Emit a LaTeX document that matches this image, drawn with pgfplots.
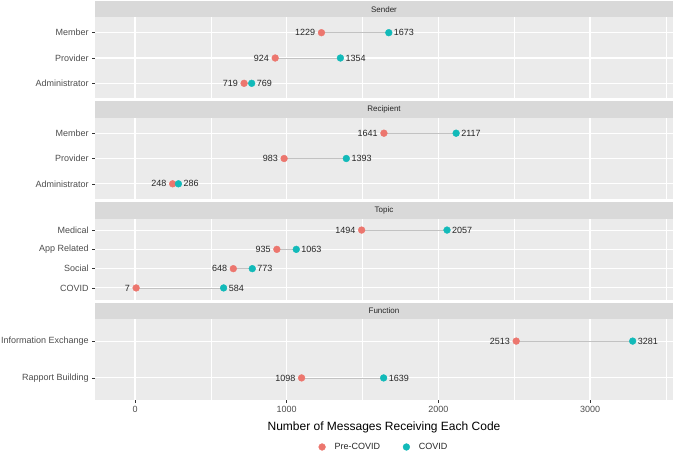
\documentclass[border=0pt]{standalone}
\usepackage{pgfplots}
\pgfplotsset{compat=1.18}
\usepackage{fontspec}
\setmainfont{Liberation Sans}
\definecolor{panelbg}{HTML}{EBEBEB}
\definecolor{stripc}{HTML}{D9D9D9}
\definecolor{tickc}{HTML}{333333}
\definecolor{labelc}{HTML}{4D4D4D}
\definecolor{prec}{HTML}{EC766E}
\definecolor{covc}{HTML}{12BAB9}
\definecolor{segc}{HTML}{C2C2C2}

\pgfplotsset{
  panel/.style={
    scale only axis, width=578pt, height=81pt,
    xmin=-264, xmax=3547, y dir=reverse, clip=false,
    anchor=south west,
    axis background/.style={fill=panelbg},
    axis line style={draw=none},
    xtick={0,1000,2000,3000}, minor xtick={500,1500,2500,3500},
    xmajorgrids, xminorgrids, ymajorgrids,
    major grid style={white, line width=1.1pt},
    minor grid style={white, line width=0.5pt},
    tick align=outside, major tick length=2.75pt, minor tick length=0pt,
    ytick pos=left, xtick pos=bottom,
    tick style={color=tickc, line width=0.5pt},
    ticklabel style={font=\fontsize{9}{10}\selectfont, text=labelc},
    /pgf/number format/assume math mode=true,
    /pgf/number format/1000 sep={},
  },
  top panel/.style={panel, xticklabels={}, xtick style={draw=none}},
  seg/.style={forget plot, segc, line width=0.8pt},
  dots/.style={only marks, mark=*, mark size=3.4pt,
    nodes near coords, point meta=explicit symbolic,
    every node near coord/.append style={font=\fontsize{9}{10}\selectfont, text=black!85, inner sep=0pt}},
  pre/.style={dots, color=prec, nodes near coords align={anchor=east}, every node near coord/.append style={xshift=-6pt}},
  cov/.style={dots, color=covc, nodes near coords align={anchor=west}, every node near coord/.append style={xshift=5pt}},
}
% grey facet strip above the panel
\newcommand{\strip}[1]{%
  \fill[stripc] (rel axis cs:0,1) rectangle ([yshift=16.5pt]rel axis cs:1,1);
  \node[font=\fontsize{8}{9}\selectfont, text=black!85] at ([yshift=8.25pt]rel axis cs:0.5,1) {#1};}

\begin{document}
\begin{tikzpicture}
% Sender
\begin{axis}[top panel, at={(95pt,359.5pt)},
  ymin=0.4, ymax=3.6, ytick={1,2,3}, yticklabels={Member,Provider,Administrator}]
\addplot[seg] coordinates {(1229,1) (1673,1)};
\addplot[seg] coordinates {(924,2) (1354,2)};
\addplot[seg] coordinates {(719,3) (769,3)};
\addplot[pre] coordinates {(1229,1) [1229] (924,2) [924] (719,3) [719]};
\addplot[cov] coordinates {(1673,1) [1673] (1354,2) [1354] (769,3) [769]};
\strip{Sender}
\end{axis}
% Recipient
\begin{axis}[top panel, at={(95pt,259pt)},
  ymin=0.4, ymax=3.6, ytick={1,2,3}, yticklabels={Member,Provider,Administrator}]
\addplot[seg] coordinates {(1641,1) (2117,1)};
\addplot[seg] coordinates {(983,2) (1393,2)};
\addplot[seg] coordinates {(248,3) (286,3)};
\addplot[pre] coordinates {(1641,1) [1641] (983,2) [983] (248,3) [248]};
\addplot[cov] coordinates {(2117,1) [2117] (1393,2) [1393] (286,3) [286]};
\strip{Recipient}
\end{axis}
% Topic
\begin{axis}[top panel, at={(95pt,158.5pt)},
  ymin=0.4, ymax=4.6, ytick={1,2,3,4}, yticklabels={Medical,App Related,Social,COVID}]
\addplot[seg] coordinates {(1494,1) (2057,1)};
\addplot[seg] coordinates {(935,2) (1063,2)};
\addplot[seg] coordinates {(648,3) (773,3)};
\addplot[seg] coordinates {(7,4) (584,4)};
\addplot[pre] coordinates {(1494,1) [1494] (935,2) [935] (648,3) [648] (7,4) [7]};
\addplot[cov] coordinates {(2057,1) [2057] (1063,2) [1063] (773,3) [773] (584,4) [584]};
\strip{Topic}
\end{axis}
% Function
\begin{axis}[panel, at={(95pt,58pt)},
  ymin=0.4, ymax=2.6, ytick={1,2}, yticklabels={Information Exchange,Rapport Building},
  xlabel={Number of Messages Receiving Each Code},
  xlabel style={font=\fontsize{12}{14}\selectfont, text=black, at={(axis description cs:0.5,0)}, anchor=center, yshift=-27pt},
  legend style={at={(0.5,-0.58)}, anchor=center, draw=none, fill=none, legend columns=2,
    font=\fontsize{9}{10}\selectfont, text=black!85,
    /tikz/every odd column/.append style={column sep=7pt},
    /tikz/every even column/.append style={column sep=21pt}},
  legend cell align=left]
\addplot[seg] coordinates {(2513,1) (3281,1)};
\addplot[seg] coordinates {(1098,2) (1639,2)};
\addplot[pre] coordinates {(2513,1) [2513] (1098,2) [1098]};
\addlegendentry{Pre-COVID}
\addplot[cov] coordinates {(3281,1) [3281] (1639,2) [1639]};
\addlegendentry{COVID}
\strip{Function}
\end{axis}
\pgfresetboundingbox
\useasboundingbox (0,0) rectangle (676pt,458pt);
\end{tikzpicture}
\end{document}
